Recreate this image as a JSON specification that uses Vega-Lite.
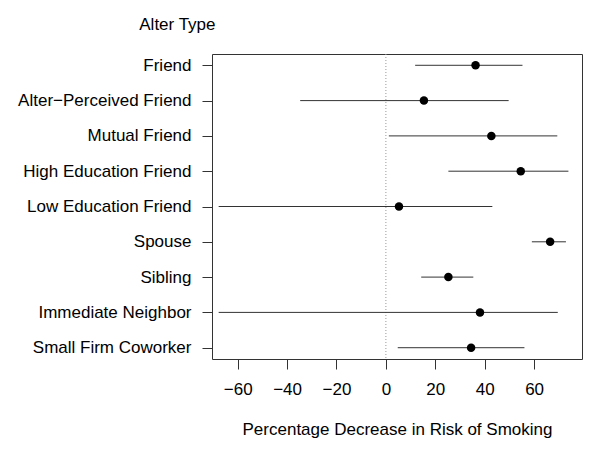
{
  "$schema": "https://vega.github.io/schema/vega-lite/v6.json",
  "width": 370,
  "height": 305,
  "autosize": {"type": "none"},
  "padding": {"left": 212, "top": 54, "right": 18, "bottom": 92},
  "background": "white",
  "config": {
    "view": {"stroke": "#333", "strokeWidth": 1},
    "font": "Liberation Sans",
    "axis": {"labelFont": "Liberation Sans", "titleFont": "Liberation Sans", "labelColor": "#000", "titleColor": "#000", "labelFontSize": 17, "titleFontSize": 17, "titleFontWeight": "normal", "tickColor": "#333", "tickSize": 10, "domain": false, "grid": false}
  },
  "data": {"values": [
    {"type": "Friend", "lo": 11.85, "est": 36.3, "hi": 55.3},
    {"type": "Alter\u2212Perceived Friend", "lo": -34.7, "est": 15.4, "hi": 49.7},
    {"type": "Mutual Friend", "lo": 1.2, "est": 42.7, "hi": 69.4},
    {"type": "High Education Friend", "lo": 25.3, "est": 54.6, "hi": 73.9},
    {"type": "Low Education Friend", "lo": -67.7, "est": 5.3, "hi": 43.1},
    {"type": "Spouse", "lo": 59.1, "est": 66.5, "hi": 72.9},
    {"type": "Sibling", "lo": 14.3, "est": 25.3, "hi": 35.4},
    {"type": "Immediate Neighbor", "lo": -67.7, "est": 38.1, "hi": 69.6},
    {"type": "Small Firm Coworker", "lo": 4.8, "est": 34.5, "hi": 56.1}
  ]},
  "encoding": {
    "y": {
      "field": "type", "type": "nominal", "sort": null,
      "scale": {"type": "point", "padding": 0.32},
      "axis": {"title": "Alter Type", "titleAngle": 0, "titleAlign": "right", "titleBaseline": "middle", "titleX": 3, "titleY": -30, "labelPadding": 11}
    }
  },
  "layer": [
    {
      "mark": {"type": "rule", "color": "#999", "strokeDash": [1, 2], "strokeWidth": 1},
      "data": {"values": [{"z": 0}]},
      "encoding": {"x": {"field": "z", "type": "quantitative"}, "y": null}
    },
    {
      "mark": {"type": "rule", "color": "#333", "strokeWidth": 1},
      "encoding": {
        "x": {"field": "lo", "type": "quantitative", "scale": {"domain": [-70.4, 79.4], "nice": false, "zero": false},
          "axis": {"values": [-60, -40, -20, 0, 20, 40, 60], "title": "Percentage Decrease in Risk of Smoking", "labelPadding": 12, "titlePadding": 24}},
        "x2": {"field": "hi"}
      }
    },
    {
      "mark": {"type": "circle", "color": "#000", "opacity": 1, "size": 72},
      "encoding": {"x": {"field": "est", "type": "quantitative"}}
    }
  ]
}
